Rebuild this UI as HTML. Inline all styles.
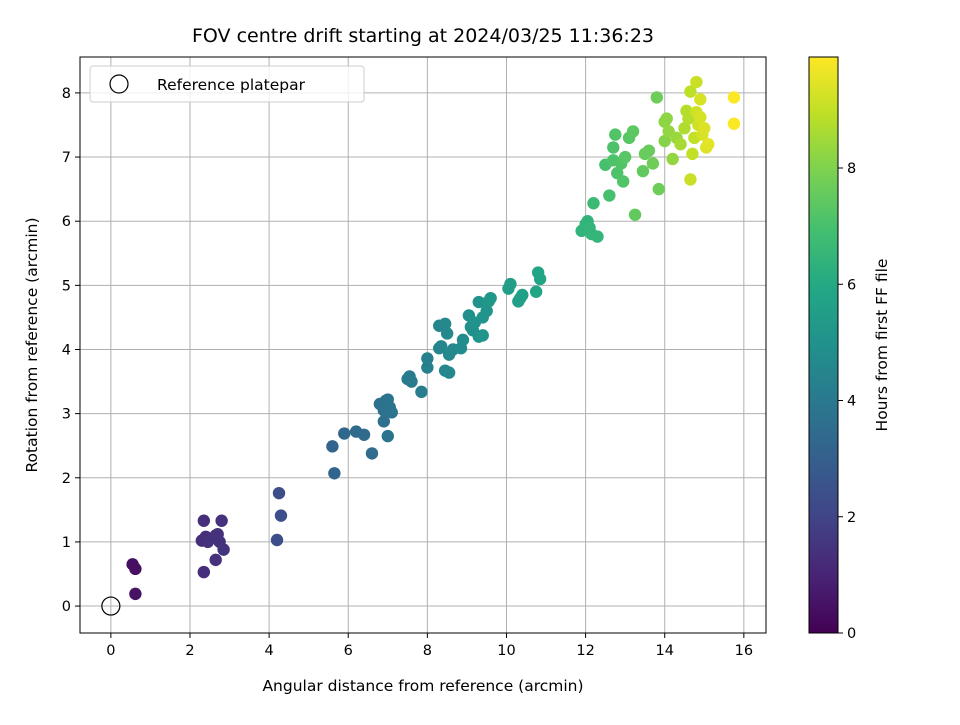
<!DOCTYPE html>
<html><head><meta charset="utf-8"><style>
body{margin:0;background:#fff;font-family:"Liberation Sans","DejaVu Sans",sans-serif}
svg text{font-family:"DejaVu Sans","Liberation Sans",sans-serif;fill:#000}
</style></head><body>
<svg id="chart" width="960" height="720" xmlns="http://www.w3.org/2000/svg">
<defs><linearGradient id="vir" x1="0" y1="1" x2="0" y2="0">
<stop offset="0" stop-color="#440154"/><stop offset="0.1" stop-color="#482475"/><stop offset="0.2" stop-color="#414487"/><stop offset="0.3" stop-color="#355f8d"/><stop offset="0.4" stop-color="#2a788e"/><stop offset="0.5" stop-color="#21918c"/><stop offset="0.6" stop-color="#22a884"/><stop offset="0.7" stop-color="#44bf70"/><stop offset="0.8" stop-color="#7ad151"/><stop offset="0.9" stop-color="#bddf26"/><stop offset="1" stop-color="#fde725"/></linearGradient></defs>
<text x="423" y="42" font-size="19" text-anchor="middle">FOV centre drift starting at 2024/03/25 11:36:23</text>
<g id="grid"></g><g id="pts"></g><g id="axes"></g>
</svg>
<script>
const xs=[0.55,0.62,0.62,2.3,2.35,2.4,2.45,2.65,2.7,2.75,2.8,2.85,2.65,2.35,4.2,4.25,4.3,5.6,5.65,5.9,6.2,6.4,6.6,6.8,6.9,6.95,7.0,7.05,7.1,6.9,7.0,7.5,7.55,7.6,7.85,8.0,8.0,8.3,8.35,8.3,8.45,8.5,8.45,8.55,8.55,8.65,8.85,8.9,9.05,9.1,9.15,9.2,9.3,9.3,9.4,9.4,9.5,9.6,9.55,10.05,10.1,10.3,10.35,10.4,10.75,10.8,10.85,11.9,12.0,12.05,12.1,12.15,12.3,12.2,12.5,12.6,12.7,12.7,12.75,12.8,12.9,12.95,13.0,13.1,13.2,13.25,13.45,13.5,13.6,13.7,13.8,13.85,14.0,14.0,14.05,14.1,14.2,14.3,14.4,14.5,14.55,14.6,14.65,14.65,14.7,14.75,14.8,14.8,14.85,14.9,14.95,15.0,15.05,15.1,14.9,15.75,15.75];
const ys=[0.65,0.58,0.19,1.02,1.33,1.08,1.0,1.1,1.12,1.0,1.33,0.88,0.72,0.53,1.03,1.76,1.41,2.49,2.07,2.69,2.72,2.67,2.38,3.15,3.05,3.2,3.22,3.1,3.02,2.88,2.65,3.54,3.58,3.5,3.34,3.72,3.86,4.02,4.05,4.37,4.4,4.25,3.67,3.64,3.92,4.0,4.02,4.15,4.53,4.35,4.3,4.42,4.74,4.2,4.22,4.5,4.6,4.8,4.75,4.95,5.02,4.75,4.8,4.85,4.9,5.2,5.1,5.85,5.95,6.0,5.9,5.8,5.76,6.28,6.88,6.4,6.95,7.15,7.35,6.75,6.9,6.62,7.0,7.3,7.4,6.1,6.78,7.05,7.1,6.9,7.93,6.5,7.25,7.55,7.6,7.4,6.97,7.3,7.2,7.45,7.72,7.6,8.02,6.65,7.05,7.3,8.17,7.7,7.5,7.9,7.35,7.45,7.15,7.2,7.62,7.93,7.52];
const hours=[0.4,0.4,0.5,1.3,1.3,1.3,1.4,1.4,1.4,1.4,1.4,1.5,1.4,1.3,2.3,2.3,2.4,3.2,3.2,3.3,3.4,3.4,3.5,3.7,3.7,3.7,3.8,3.8,3.8,3.7,3.8,4.1,4.1,4.1,4.2,4.3,4.3,4.5,4.5,4.5,4.6,4.6,4.5,4.6,4.6,4.6,4.7,4.8,4.9,4.9,4.9,5.0,5.0,5.0,5.1,5.1,5.1,5.2,5.2,5.5,5.5,5.6,5.6,5.6,5.8,5.8,5.8,6.4,6.4,6.4,6.5,6.5,6.5,6.7,7.0,7.0,7.1,7.1,7.2,7.1,7.2,7.2,7.3,7.3,7.4,7.5,7.5,7.6,7.6,7.7,7.7,7.7,8.1,8.2,8.2,8.3,8.3,8.4,8.6,8.7,8.8,8.8,8.9,9.1,9.0,9.0,9.1,9.2,9.2,9.3,9.3,9.4,9.4,9.5,9.3,9.9,9.9];
const xTicks=[0,2,4,6,8,10,12,14,16], yTicks=[0,1,2,3,4,5,6,7,8], cTicks=[0,2,4,6,8];
const X0=80,X1=766,Y0=57,Y1=633,xmin=-0.78,xmax=16.56,ymin=-0.42,ymax=8.56,hmax=9.91;
const sx=v=>X0+(v-xmin)/(xmax-xmin)*(X1-X0), sy=v=>Y1-(v-ymin)/(ymax-ymin)*(Y1-Y0), sc=v=>633-v/hmax*576;
const stops=[[68,1,84],[72,36,117],[65,68,135],[53,95,141],[42,120,142],[33,145,140],[34,168,132],[68,191,112],[122,209,81],[189,223,38],[253,231,37]];
function vir(t){t=Math.max(0,Math.min(1,t))*10;const i=Math.min(9,Math.floor(t)),f=t-i,a=stops[i],b=stops[i+1];return `rgb(${a.map((c,k)=>Math.round(c+(b[k]-c)*f)).join(',')})`;}
const NS='http://www.w3.org/2000/svg';
function mk(p,tag,at){const e=document.createElementNS(NS,tag);for(const k in at)e.setAttribute(k,at[k]);p.appendChild(e);return e;}
const g=document.getElementById('grid'),pts=document.getElementById('pts'),ax=document.getElementById('axes');
xTicks.forEach(t=>{const x=sx(t);
 const l=mk(g,'line',{x1:x,x2:x,y1:Y0,y2:Y1,stroke:'#b0b0b0','stroke-width':1});
 
 mk(ax,'line',{x1:x,x2:x,y1:Y1,y2:Y1+5,stroke:'#000'});
 const tx=mk(ax,'text',{x:x,y:Y1+22,'font-size':14.5,'text-anchor':'middle'});tx.textContent=t;
 });
yTicks.forEach(t=>{const y=sy(t);
 const l=mk(g,'line',{x1:X0,x2:X1,y1:y,y2:y,stroke:'#b0b0b0','stroke-width':1});
 
 mk(ax,'line',{x1:X0-5,x2:X0,y1:y,y2:y,stroke:'#000'});
 const tx=mk(ax,'text',{x:X0-9,y:y+5,'font-size':14.5,'text-anchor':'end'});tx.textContent=t;
 });
xs.forEach((x,i)=>{const c=mk(pts,'circle',{cx:sx(x),cy:sy(ys[i]),r:6.2,fill:vir(hours[i]/hmax)});
 });
const ref=mk(pts,'circle',{cx:sx(0),cy:sy(0),r:9,fill:'none',stroke:'#000','stroke-width':1.2});

const fr=mk(ax,'rect',{x:X0,y:Y0,width:X1-X0,height:Y1-Y0,fill:'none',stroke:'#000','stroke-width':1});

const xt=mk(ax,'text',{x:(X0+X1)/2,y:691,'font-size':15.5,'text-anchor':'middle'});xt.textContent='Angular distance from reference (arcmin)';

const yt=mk(ax,'text',{x:0,y:0,'font-size':15.5,'text-anchor':'middle',transform:`translate(37,${(Y0+Y1)/2}) rotate(-90)`});yt.textContent='Rotation from reference (arcmin)';

const lg=mk(ax,'g',{});
mk(lg,'rect',{x:90,y:66,width:274,height:36,rx:3,fill:'#fff',stroke:'#ccc','fill-opacity':0.8});
mk(lg,'circle',{cx:119,cy:84,r:9,fill:'none',stroke:'#000','stroke-width':1.2});
const lt=mk(lg,'text',{x:157,y:90,'font-size':15.5});lt.textContent='Reference platepar';

const cb=mk(ax,'rect',{x:809,y:57,width:29,height:576,fill:'url(#vir)',stroke:'#000','stroke-width':1});

cTicks.forEach(t=>{const y=sc(t);mk(ax,'line',{x1:838,x2:843,y1:y,y2:y,stroke:'#000'});
 const tx=mk(ax,'text',{x:847,y:y+5,'font-size':14.5});tx.textContent=t;
 });
const ct=mk(ax,'text',{x:0,y:0,'font-size':15.5,'text-anchor':'middle',transform:'translate(887,345) rotate(-90)'});ct.textContent='Hours from first FF file';

</script>
</body></html>
